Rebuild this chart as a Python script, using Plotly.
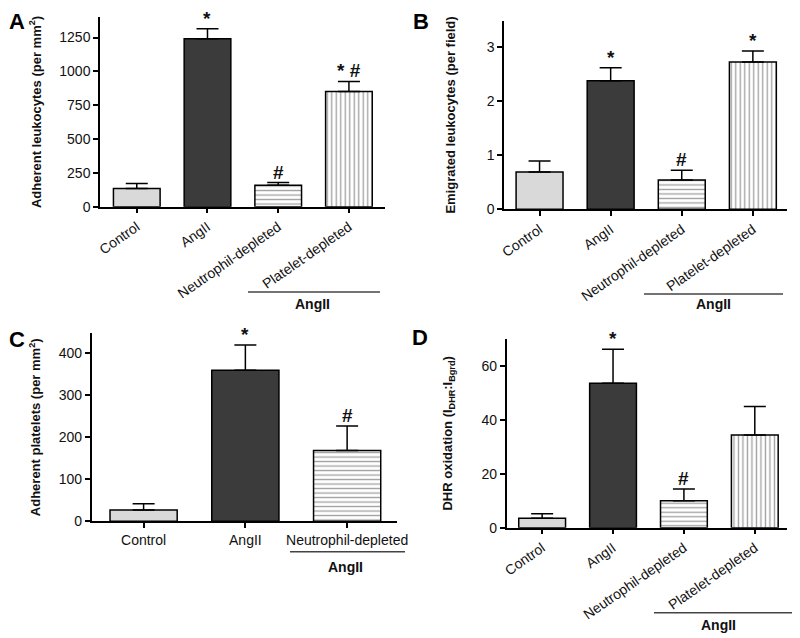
import plotly.graph_objects as go

# ---------------- data ----------------
cats4 = ["Control", "AngII", "Neutrophil-depleted", "Platelet-depleted"]
cats3 = ["Control", "AngII", "Neutrophil-depleted"]

a_mean = [135, 1242, 158, 852]
a_sem = [36, 74, 20, 74]
a_marks = ["", "*", "#", "* #"]

b_mean = [0.69, 2.37, 0.54, 2.72]
b_sem = [0.20, 0.24, 0.18, 0.20]
b_marks = ["", "*", "#", "*"]

c_mean = [27, 360, 169]
c_sem = [15, 60, 58]
c_marks = ["", "*", "#"]

d_mean = [3.5, 53.6, 10.0, 34.4]
d_sem = [1.7, 12.6, 4.4, 10.6]
d_marks = ["", "*", "#", ""]

a_ticks = [0, 250, 500, 750, 1000, 1250]
b_ticks = [0, 1, 2, 3]
c_ticks = [0, 100, 200, 300, 400]
d_ticks = [0, 20, 40, 60]

FONT = "Arial, Liberation Sans, sans-serif"
fills = ["#d9d9d9", "#3b3b3b", "white", "white"]
shapes_pat = ["", "", "-", "|"]

# page body has an 8px margin: figure occupies window pixels 8..800 x 8..638
OFF = 8
W, H = 800 - OFF, 638 - OFF


def px(x):
    return (x - OFF) / W


def py(y):
    return 1 - (y - OFF) / H


fig = go.Figure()

panels = [
    ("x", "y", cats4, a_mean, a_sem, a_marks, a_ticks, [0, 1400], [-0.52, 3.51],
     (100, 385), (17.3, 206.7), "Adherent leukocytes (per mm<sup>2</sup>)", 15, -35),
    ("x2", "y2", cats4, b_mean, b_sem, b_marks, b_ticks, [0, 3.48], [-0.5, 3.48],
     (504, 787), (20.7, 209.3), "Emigrated leukocytes (per field)", 28, -35),
    ("x3", "y3", cats3, c_mean, c_sem, c_marks, c_ticks, [0, 448], [-0.51, 2.49],
     (91.7, 397), (333.3, 521.3), "Adherent platelets (per mm<sup>2</sup>)", 15, 0),
    ("x4", "y4", cats4, d_mean, d_sem, d_marks, d_ticks, [0, 70], [-0.5, 3.45],
     (506.7, 786.7), (339, 527.7), "DHR oxidation (I<sub>DHR</sub>:I<sub>Bgrd</sub>)", 26, -35),
]

annotations = []
layout_axes = {}
for (xa, ya, cats, mean, sem, marks, ticks, yr, xr, xpx, ypx,
     title, standoff, angle) in panels:
    n = len(cats)
    fig.add_trace(go.Bar(
        x=cats, y=mean, xaxis=xa, yaxis=ya,
        marker=dict(
            color=fills[:n],
            line=dict(color="black", width=1.5),
            pattern=dict(shape=shapes_pat[:n], fillmode="overlay",
                         fgcolor="black", size=4.5, solidity=0.3),
        ),
        error_y=dict(type="data", array=sem, arrayminus=[0] * n, symmetric=False,
                     color="black", thickness=1.5, width=11),
        showlegend=False,
    ))
    xkey = "xaxis" + xa[1:]
    ykey = "yaxis" + ya[1:]
    layout_axes[xkey] = dict(
        domain=[px(xpx[0]), px(xpx[1])], range=xr, anchor=ya, type="category",
        automargin=False,
        showline=True, linecolor="black", linewidth=1.5,
        ticks="outside", ticklen=5, tickwidth=1.5, tickcolor="black",
        tickangle=angle, showgrid=False, zeroline=False,
        tickfont=dict(family=FONT, size=14, color="#111111"),
    )
    layout_axes[ykey] = dict(
        domain=[py(ypx[1]), py(ypx[0])], range=yr, anchor=xa, automargin=False,
        showline=True, linecolor="black", linewidth=1.5,
        ticks="outside", ticklen=5, tickwidth=1.5, tickcolor="black",
        tickvals=ticks, showgrid=False, zeroline=False,
        tickfont=dict(family=FONT, size=14, color="#111111"),
        title=dict(text="<b>" + title + "</b>", standoff=standoff,
                   font=dict(family=FONT, size=13, color="#111111")),
    )
    for c, m, s, mk in zip(cats, mean, sem, marks):
        if mk:
            annotations.append(dict(
                x=c, y=m + s, xref=xa, yref=ya, text="<b>" + mk + "</b>", showarrow=False,
                yanchor="bottom", yshift=-2,
                font=dict(family=FONT, size=19, color="#111111")))

# panel letters (reference pixel centres)
for letter, lx, ly in [("A", 17, 21), ("B", 421, 21), ("C", 17, 339), ("D", 420, 337)]:
    annotations.append(dict(x=px(lx), y=py(ly), xref="paper", yref="paper",
                            text="<b>" + letter + "</b>",
                            showarrow=False, xanchor="center", yanchor="middle",
                            font=dict(family=FONT, size=22, color="black")))

# AngII brackets (reference pixels): x0, x1, y, label x, label y
brackets = [
    (248, 380, 292, 312, 304),
    (644, 783, 294, 713, 304),
    (290, 405, 551.7, 345, 567),
    (654, 793, 612.7, 718, 625),
]
shapes = []
for x0, x1, y, lx, ly in brackets:
    shapes.append(dict(type="line", xref="paper", yref="paper",
                       x0=px(x0), x1=px(x1), y0=py(y), y1=py(y),
                       line=dict(color="#444444", width=1.5)))
    annotations.append(dict(x=px(lx), y=py(ly), xref="paper", yref="paper",
                            text="<b>AngII</b>",
                            showarrow=False, xanchor="center", yanchor="middle",
                            font=dict(family=FONT, size=14, color="#111111")))

fig.update_layout(
    width=W, height=H,
    margin=dict(l=0, r=0, t=0, b=0),
    paper_bgcolor="white", plot_bgcolor="white",
    bargap=0.34,
    annotations=annotations, shapes=shapes,
    font=dict(family=FONT, color="black"),
    **layout_axes,
)

fig.write_html("out.html")
